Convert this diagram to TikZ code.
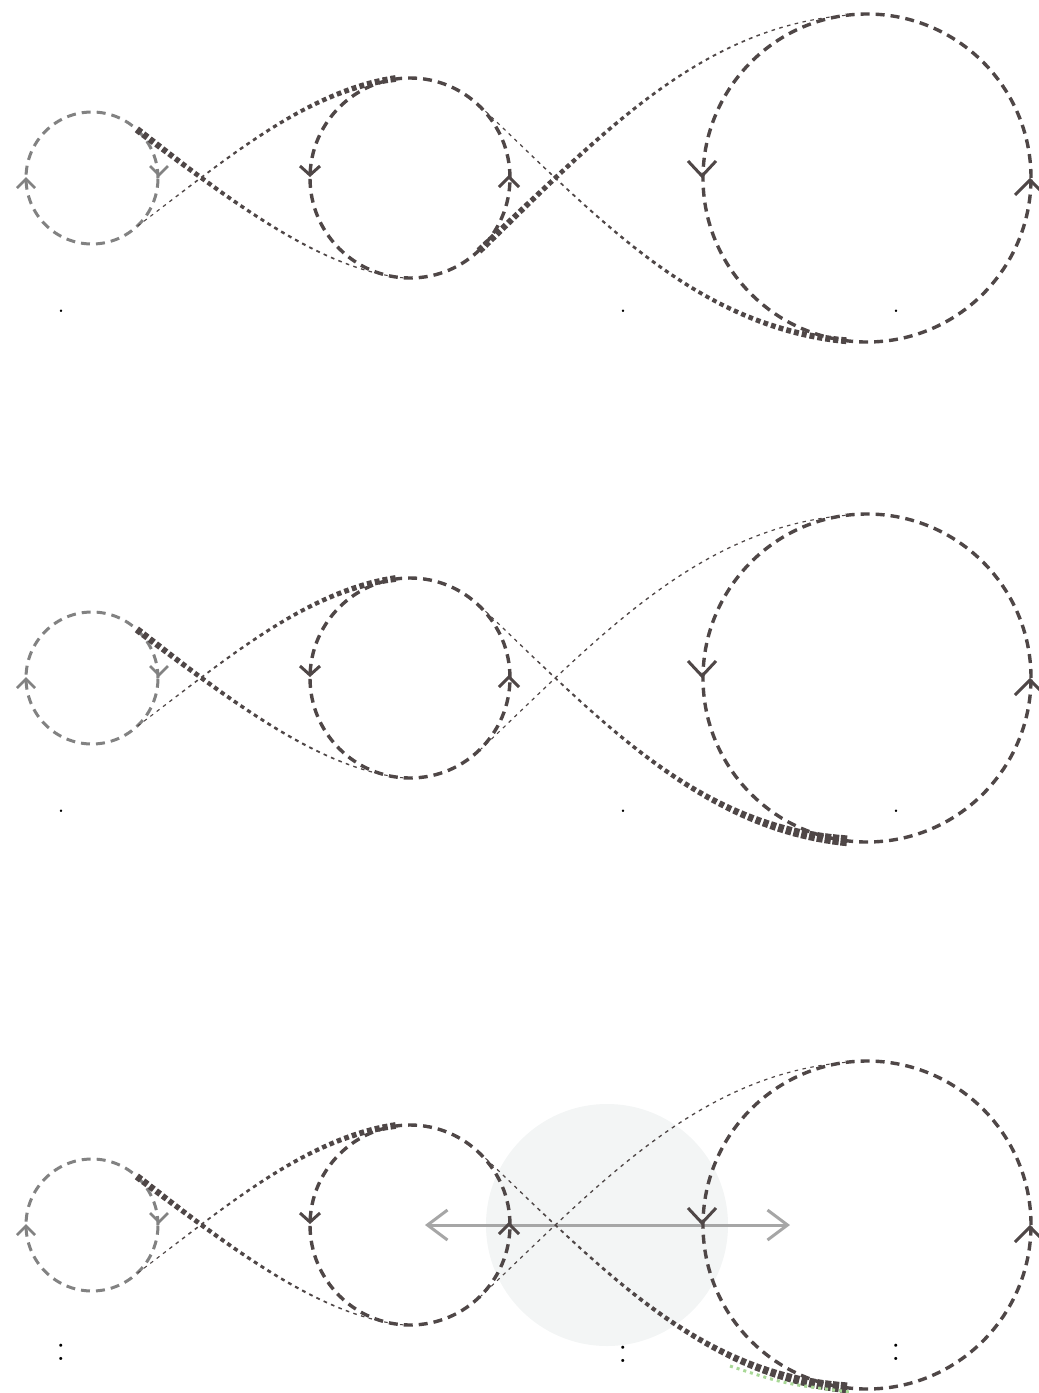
\documentclass[tikz,border=0pt]{standalone}
\usetikzlibrary{arrows.meta,decorations.markings}
\definecolor{bahnfarbe}{RGB}{79,71,71}
\definecolor{kleingrau}{RGB}{130,130,130}
\definecolor{hell}{RGB}{243,245,245}
\definecolor{pfeilgrau}{RGB}{166,166,166}
\definecolor{gruen}{RGB}{168,216,150}

\begin{document}
\begin{tikzpicture}[x=1pt, y=-1pt,
		kreis/.style={draw=bahnfarbe, line width=3.4pt, dash pattern=on 9pt off 6pt},
		kleinkreis/.style={draw=kleingrau, line width=3pt, dash pattern=on 9pt off 6pt},
		spitze/.style={draw=bahnfarbe, line width=3pt},
		kleinspitze/.style={draw=kleingrau, line width=2.6pt},
		doppelpfeil/.style={draw=pfeilgrau, line width=3pt, {Straight Barb[length=20pt,width=30pt]}-{Straight Barb[length=20pt,width=30pt]}},
		marke/.style={anchor=base, inner sep=0pt, text=black, font=\fontsize{30}{32}\selectfont},
		%Bahn mit wachsender/fallender Punktgroesse
		bahn/.style 2 args={decoration={markings,
				mark=between positions 0 and 1 step 8pt with {%
					\pgfmathsetmacro\anteil{\pgfkeysvalueof{/pgf/decoration/mark info/distance from start}/\pgfdecoratedpathlength}%
					\pgfmathsetmacro\breite{#1*(1-\anteil)^2+#2*\anteil^2+3.4*\anteil*(1-\anteil)}%
					\fill[bahnfarbe] (-1.6pt-0.15*\breite pt,-0.5*\breite pt) rectangle (1.6pt+0.15*\breite pt,0.5*\breite pt);}},
			postaction=decorate}]
	\useasboundingbox (0,0) rectangle (1039,1393);
	% Hintergrund im dritten Bild
	\begin{scope}[shift={(0,1047)}]
		\coordinate (z) at (607,178);
		\fill[hell] (z) circle[radius=121pt];
		\coordinate (aL) at (425,178);
		\coordinate (aR) at (790,178);
		\draw[doppelpfeil] (aL) -- (aR);
	\end{scope}
	% drei Bilder
	\foreach \oy/\ca/\cb/\da/\db in {0/1/7/7/1, 500/1/11/1/1, 1047/1/11/1/1}{
		\begin{scope}[shift={(0,\oy)}]
			% Mittelpunkte
			\coordinate (k) at (92,178);
			\coordinate (m) at (410,178);
			\coordinate (g) at (867,178);
			% Kreise
			\draw[kleinkreis] (k) circle[radius=66pt];
			\draw[kreis] (m) circle[radius=100pt];
			\draw[kreis] (g) circle[radius=164pt];
			% Anschlusspunkte
			\coordinate (kO) at (139,131);
			\coordinate (kU) at (139,225);
			\coordinate (mO) at (400,78);
			\coordinate (mU) at (405,278);
			\coordinate (mOR) at (481,107);
			\coordinate (mUR) at (481,249);
			\coordinate (gO) at (850,15);
			\coordinate (gU) at (850,341);
			% Bahnen
			\path[bahn={7}{1}] (kO) .. controls (230,200) and (320,270) .. (mU);
			\path[bahn={1}{7}] (kU) .. controls (230,156) and (310,88) .. (mO);
			\path[bahn={\ca}{\cb}] (mOR) .. controls (600,220) and (700,330) .. (gU);
			\path[bahn={\da}{\db}] (mUR) .. controls (600,136) and (700,26) .. (gO);
			% Pfeilspitzen
			\coordinate (kL) at (26,179);
			\coordinate (kR) at (159,175);
			\coordinate (mL) at (310,175);
			\coordinate (mR) at (509,177);
			\coordinate (gL) at (702,176);
			\coordinate (gR) at (1030,180);
			\draw[kleinspitze] (kL) ++(-9,9) -- ++(9,-9) -- ++(9,9);
			\draw[kleinspitze] (kR) ++(-9,-9) -- ++(9,9) -- ++(9,-9);
			\draw[spitze] (mL) ++(-10,-9) -- ++(10,9) -- ++(10,-9);
			\draw[spitze] (mR) ++(-10,10) -- ++(10,-10) -- ++(10,10);
			\draw[spitze] (gL) ++(-14,-15) -- ++(14,15) -- ++(14,-15);
			\draw[spitze] (gR) ++(-15,15) -- ++(15,-15) -- ++(15,15);
		\end{scope}
	}
	% Marken
	\foreach \oy in {0,500}{
		\node[marke] (p1) at (61,\oy+312.5) {.};
		\node[marke] (p2) at (623,\oy+312.5) {.};
		\node[marke] (p3) at (896,\oy+312.5) {.};
	}
	\node[marke, font=\fontsize{38}{40}\selectfont] (q1) at (61,1360) {:};
	\node[marke, font=\fontsize{38}{40}\selectfont] (q2) at (623,1362) {:};
	\node[marke, font=\fontsize{38}{40}\selectfont] (q3) at (896,1360) {:};
	% gruener Rest
	\coordinate (gr1) at (730,1366);
	\coordinate (gr2) at (850,1392);
	\draw[gruen, line width=3pt, dash pattern=on 3pt off 4pt] (gr1) .. controls (785,1384) .. (gr2);
\end{tikzpicture}
\end{document}
